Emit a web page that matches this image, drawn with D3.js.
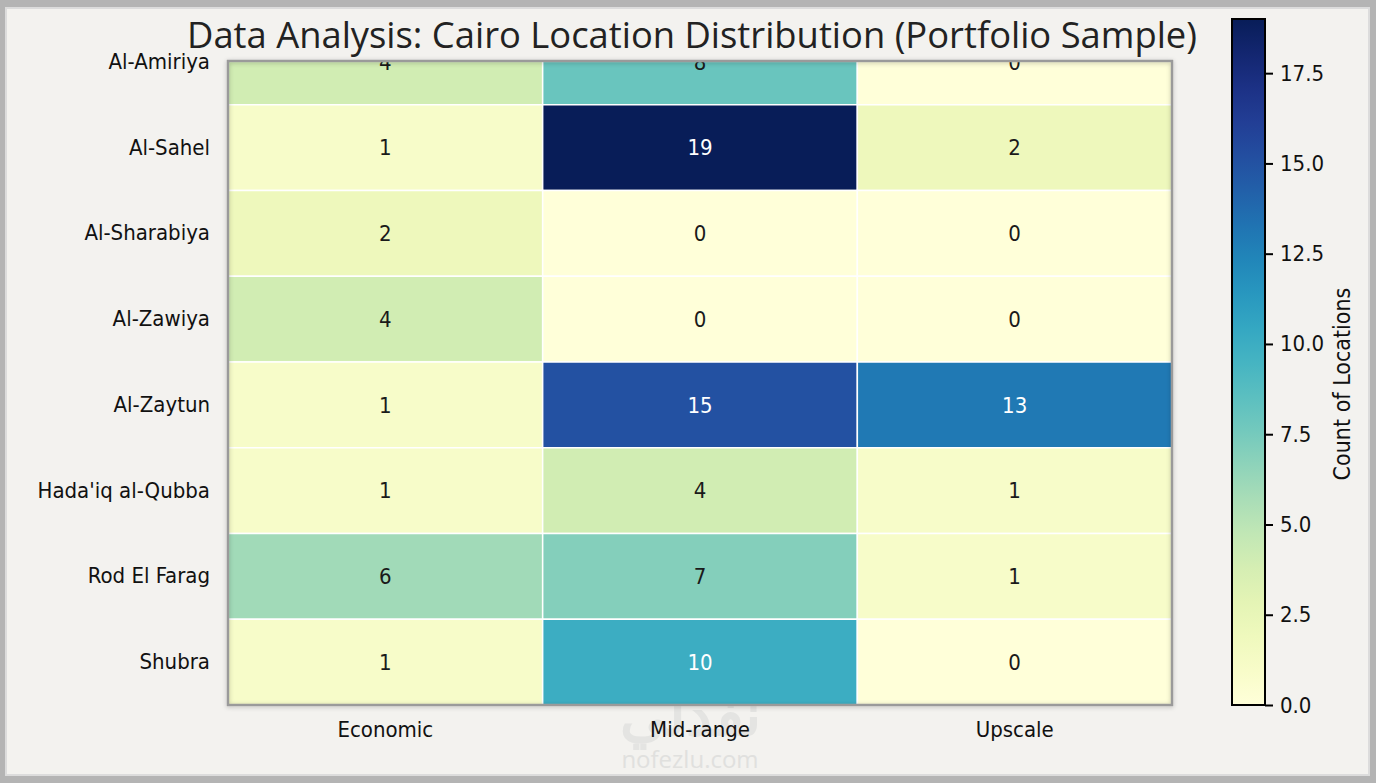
<!DOCTYPE html>
<html>
<head>
  <meta content="text/html;charset=utf-8" http-equiv="Content-Type">
  <title>Cairo Location Distribution</title>
<script src="https://cdnjs.cloudflare.com/ajax/libs/d3/7.6.1/d3.min.js"></script>
<style>
  body { margin: 0; background: #b8b8b8; }
  svg  { display: block; }
</style>
</head>
<body>
<svg width=1376 height=783></svg>
<script>

let districts = ['Al-Amiriya', 'Al-Sahel', 'Al-Sharabiya', 'Al-Zawiya',
                 'Al-Zaytun', "Hada'iq al-Qubba", 'Rod El Farag', 'Shubra'];
let tiers     = ['Economic', 'Mid-range', 'Upscale'];

let economic  = [4,  1, 2, 4,  1, 1, 6,  1];
let midRange  = [8, 19, 0, 0, 15, 4, 7, 10];
let upscale   = [0,  2, 0, 0, 13, 1, 1,  0];

let colorTicks = [0, 2.5, 5, 7.5, 10, 12.5, 15, 17.5];

let seriesByTier = [economic, midRange, upscale];

let cells = [];
districts.forEach((d, r) => {
   tiers.forEach((t, c) => {
      cells.push({district: d, tier: t, val: seriesByTier[c][r]});
   });
});

let svg = d3.select('svg');
let font = "'DejaVu Sans Condensed', 'DejaVu Sans', sans-serif";

//
// Frame + background
//
svg.append('rect')
   .attr('x', 0).attr('y', 0).attr('width', 1376).attr('height', 783)
   .attr('fill', '#b4b4b4');
svg.append('rect')
   .attr('x', 6).attr('y', 8).attr('width', 1363).attr('height', 767)
   .attr('fill', '#f3f2ef')
   .attr('stroke', '#dcdcdc').attr('stroke-width', 2);

let plotLeft = 228, plotRight = 1172, plotTop = 19, plotBottom = 705, clipTop = 61;

let x = d3.scaleBand().domain(tiers).range([plotLeft, plotRight]);
let y = d3.scaleBand().domain(districts).range([plotTop, plotBottom]);

let maxVal = d3.max(cells, d => d.val);
let color = d3.scaleSequential(d3.interpolateYlGnBu).domain([0, maxVal]);

let defs = svg.append('defs');
defs.append('clipPath').attr('id', 'plotClip')
   .append('rect')
   .attr('x', plotLeft).attr('y', clipTop)
   .attr('width', plotRight - plotLeft).attr('height', plotBottom - clipTop);

let filt = defs.append('filter').attr('id', 'shadow')
   .attr('x', '-5%').attr('y', '-5%').attr('width', '110%').attr('height', '110%');
filt.append('feDropShadow')
   .attr('dx', 0).attr('dy', 1).attr('stdDeviation', 2)
   .attr('flood-color', '#000').attr('flood-opacity', 0.25);

//
// Watermark (faint, behind the plot)
//
svg.append('text')
   .attr('x', 690).attr('y', 735)
   .attr('text-anchor', 'middle')
   .attr('font-family', "'Noto Sans', sans-serif")
   .attr('font-size', 58).attr('font-weight', 'bold')
   .attr('fill', '#e4e4e2')
   .text('نفذلي');
svg.append('text')
   .attr('x', 690).attr('y', 768)
   .attr('text-anchor', 'middle')
   .attr('font-family', "'Open Sans', sans-serif")
   .attr('font-size', 24)
   .attr('fill', '#e0e0de')
   .text('nofezlu.com');

//
// Heatmap cells
//
let plot = svg.append('g').attr('clip-path', 'url(#plotClip)');

plot.selectAll('rect')
   .data(cells)
   .enter()
   .append('rect')
   .attr('x', d => x(d.tier))
   .attr('y', d => y(d.district))
   .attr('width', x.bandwidth())
   .attr('height', y.bandwidth())
   .attr('fill', d => color(d.val))
   .attr('stroke', '#ffffff')
   .attr('stroke-width', 1.5);

plot.selectAll('text')
   .data(cells)
   .enter()
   .append('text')
   .attr('x', d => x(d.tier) + x.bandwidth() / 2)
   .attr('y', d => y(d.district) + y.bandwidth() / 2)
   .attr('dy', '0.35em')
   .attr('text-anchor', 'middle')
   .attr('font-family', font)
   .attr('font-size', 22)
   .attr('fill', d => d.val >= 10 ? '#ffffff' : '#1a1a1a')
   .text(d => d.val);

svg.append('rect')
   .attr('x', plotLeft).attr('y', clipTop)
   .attr('width', plotRight - plotLeft).attr('height', plotBottom - clipTop)
   .attr('fill', 'none')
   .attr('stroke', '#9a9a9a').attr('stroke-width', 2.5)
   .attr('filter', 'url(#shadow)');

//
// Axes
//
let yAxis = svg.append('g')
   .attr('transform', `translate(${plotLeft},0)`)
   .call(d3.axisLeft(y).tickSize(0).tickPadding(18));
yAxis.select('.domain').remove();
yAxis.selectAll('text')
   .attr('font-family', font).attr('font-size', 22).attr('fill', '#111');

let xAxis = svg.append('g')
   .attr('transform', `translate(0,${plotBottom})`)
   .call(d3.axisBottom(x).tickSize(0).tickPadding(16));
xAxis.select('.domain').remove();
xAxis.selectAll('text')
   .attr('font-family', font).attr('font-size', 22).attr('fill', '#111');

//
// Title
//
svg.append('text')
   .attr('x', 692).attr('y', 48)
   .attr('text-anchor', 'middle')
   .attr('font-family', "'Open Sans', sans-serif")
   .attr('font-size', 36)
   .attr('fill', '#222')
   .attr('textLength', 1010)
   .attr('lengthAdjust', 'spacingAndGlyphs')
   .text('Data Analysis: Cairo Location Distribution (Portfolio Sample)');

//
// Colour bar
//
let cbLeft = 1232, cbWidth = 33;
let cbScale = d3.scaleLinear().domain([0, maxVal]).range([plotBottom, plotTop]);

let grad = defs.append('linearGradient')
   .attr('id', 'cbGrad')
   .attr('x1', 0).attr('y1', 1).attr('x2', 0).attr('y2', 0);
grad.selectAll('stop')
   .data(d3.range(0, 1.0001, 0.05))
   .enter()
   .append('stop')
   .attr('offset', d => d)
   .attr('stop-color', d => color(d * maxVal));

svg.append('rect')
   .attr('x', cbLeft).attr('y', plotTop)
   .attr('width', cbWidth).attr('height', plotBottom - plotTop)
   .attr('fill', 'url(#cbGrad)')
   .attr('stroke', '#000').attr('stroke-width', 2);

let cbAxis = svg.append('g')
   .attr('transform', `translate(${cbLeft + cbWidth},0)`)
   .call(d3.axisRight(cbScale).tickValues(colorTicks)
          .tickFormat(d3.format('.1f')).tickSize(8).tickPadding(7));
cbAxis.select('.domain').remove();
cbAxis.selectAll('line').attr('stroke', '#000').attr('stroke-width', 2);
cbAxis.selectAll('text')
   .attr('font-family', font).attr('font-size', 22).attr('fill', '#111');

svg.append('text')
   .attr('transform', `translate(1350,${(plotTop + plotBottom) / 2 + 22}) rotate(-90)`)
   .attr('text-anchor', 'middle')
   .attr('font-family', font)
   .attr('font-size', 23)
   .attr('fill', '#111')
   .text('Count of Locations');

</script>
</body>
</html>
